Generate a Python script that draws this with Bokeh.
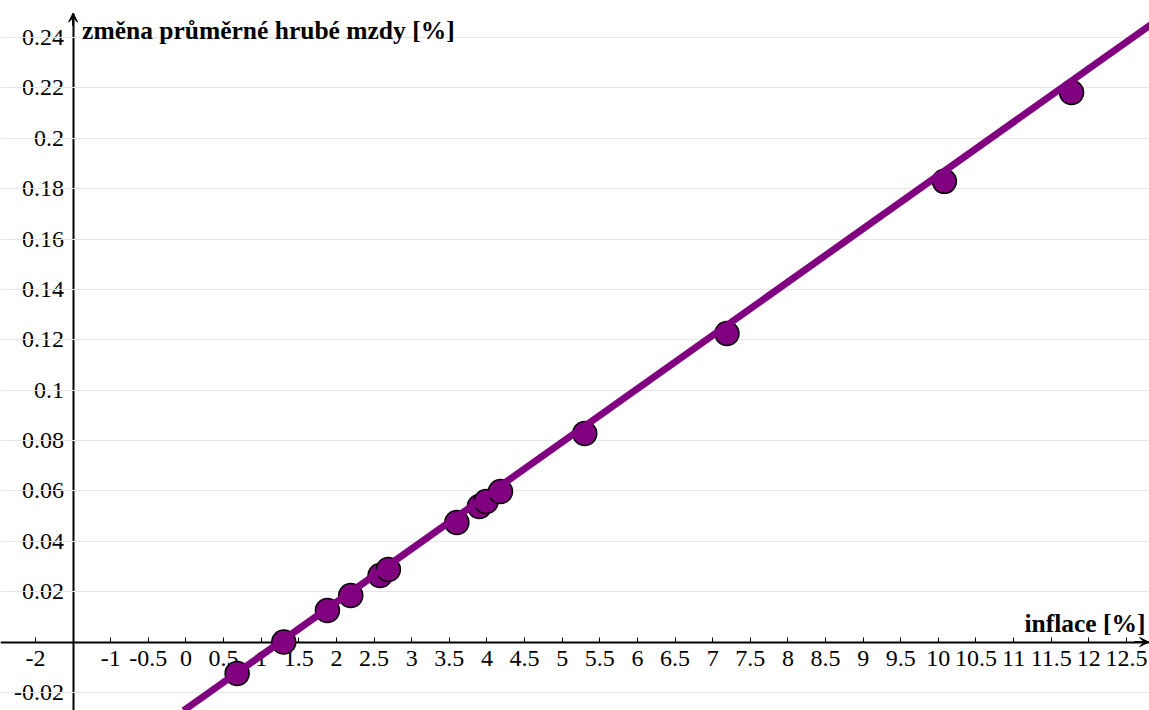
from bokeh.plotting import figure
from bokeh.models import (LinearAxis, FixedTicker, Grid, Slope, Label, Arrow,
                          VeeHead, Range1d, ColumnDataSource)
from bokeh.embed import file_html
from bokeh.resources import INLINE

# ---- data ----
inflation = [0.68, 1.30, 1.88, 2.19, 2.58, 2.69, 3.60, 3.90, 3.99, 4.18, 5.30, 7.19, 10.08, 11.77]
wage_change = [-0.0125, 0.0, 0.0125, 0.0185, 0.0264, 0.0288, 0.0475, 0.0538, 0.0558, 0.0598,
               0.0828, 0.1225, 0.1829, 0.2182]

fit_slope = 0.02118
fit_intercept = -0.0265

x_ticks = [-2, -1, -0.5, 0, 0.5, 1, 1.5, 2, 2.5, 3, 3.5, 4, 4.5, 5, 5.5, 6, 6.5, 7, 7.5,
           8, 8.5, 9, 9.5, 10, 10.5, 11, 11.5, 12, 12.5]
x_tick_labels = ["-2", "-1", "-0.5", "0", "0.5", "1", "1.5", "2", "2.5", "3", "3.5", "4", "4.5",
                 "5", "5.5", "6", "6.5", "7", "7.5", "8", "8.5", "9", "9.5", "10", "10.5", "11",
                 "11.5", "12", "12.5"]
y_ticks = [-0.02, 0.02, 0.04, 0.06, 0.08, 0.1, 0.12, 0.14, 0.16, 0.18, 0.2, 0.22, 0.24]
y_tick_labels = ["-0.02", "0.02", "0.04", "0.06", "0.08", "0.1", "0.12", "0.14", "0.16",
                 "0.18", "0.2", "0.22", "0.24"]

x_title = "inflace [%]"
y_title = "změna průměrné hrubé mzdy [%]"

# ---- view ----
X0, X1 = -2.465, 12.806
Y0, Y1 = -0.02716, 0.25470
Y_AXIS_AT = -1.5
Y_ARROW_TOP = 0.2497

PURPLE = "#800080"
FONT = "'Liberation Serif', 'Times New Roman', Times, serif"

p = figure(width=1149, height=710, output_backend="svg", toolbar_location=None,
           x_range=Range1d(X0, X1), y_range=Range1d(Y0, Y1),
           x_axis_location=None, y_axis_location=None,
           min_border=0, outline_line_color=None, background_fill_color="white",
           border_fill_color="white")
p.xgrid.visible = False
p.ygrid.visible = False

grid = Grid(dimension=1, ticker=FixedTicker(ticks=y_ticks),
            grid_line_color="#e6e6e6", grid_line_width=1)
p.add_layout(grid)

xaxis = LinearAxis(fixed_location=0, ticker=FixedTicker(ticks=x_ticks),
                   major_label_overrides={t: l for t, l in zip(x_ticks, x_tick_labels)},
                   axis_line_color="black", axis_line_width=2,
                   major_tick_in=5, major_tick_out=0, minor_tick_line_color=None,
                   major_tick_line_color="black", major_tick_line_width=1,
                   major_label_text_font=FONT, major_label_text_font_size="24px",
                   major_label_text_color="black", major_label_standoff=9)
xaxis.level = "underlay"
p.add_layout(xaxis, "below")

yaxis = LinearAxis(fixed_location=Y_AXIS_AT, ticker=FixedTicker(ticks=y_ticks),
                   major_label_overrides={t: l for t, l in zip(y_ticks, y_tick_labels)},
                   bounds=(Y0, Y_ARROW_TOP),
                   axis_line_color="black", axis_line_width=2,
                   major_tick_in=0, major_tick_out=6, minor_tick_line_color=None,
                   major_tick_line_color="black", major_tick_line_width=1,
                   major_label_text_font=FONT, major_label_text_font_size="24px",
                   major_label_text_color="black", major_label_standoff=3)
yaxis.level = "underlay"
p.add_layout(yaxis, "left")

src = ColumnDataSource(dict(x=inflation, y=wage_change))
p.scatter("x", "y", source=src, size=24, fill_color=PURPLE, line_color="black",
          line_width=1.5)

p.add_layout(Slope(gradient=fit_slope, y_intercept=fit_intercept,
                   line_color=PURPLE, line_width=7))

# axis arrow heads
p.add_layout(Arrow(x_start=X1 - 0.2, y_start=0, x_end=X1 - 0.01, y_end=0,
                   line_color="black", line_width=2,
                   end=VeeHead(size=9, fill_color="black", line_color="black", line_width=1)))
p.add_layout(Arrow(x_start=Y_AXIS_AT, y_start=Y_ARROW_TOP - 0.005, x_end=Y_AXIS_AT,
                   y_end=Y_ARROW_TOP, line_color="black", line_width=2,
                   end=VeeHead(size=9, fill_color="black", line_color="black", line_width=1)))

p.add_layout(Label(x=Y_AXIS_AT, y=0.24, x_offset=9, y_offset=7, text=y_title,
                   text_font=FONT, text_font_size="25.5px", text_font_style="bold",
                   text_color="black", text_baseline="alphabetic", text_align="left"))
p.add_layout(Label(x=X1, y=0, x_offset=-4, y_offset=19, text=x_title,
                   text_font=FONT, text_font_size="25.5px", text_font_style="bold",
                   text_color="black", text_baseline="alphabetic", text_align="right"))

open("out.html", "w").write(file_html(p, INLINE))
